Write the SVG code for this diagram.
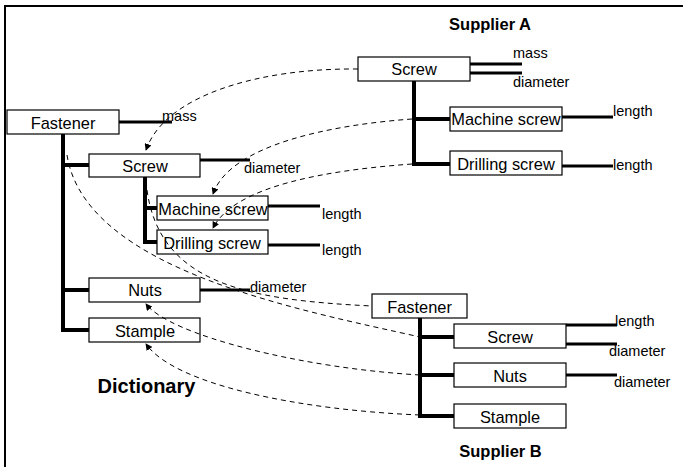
<svg xmlns="http://www.w3.org/2000/svg" width="683" height="467" viewBox="0 0 683 467">
<defs>
<marker id="arr" viewBox="0 0 8 8" refX="7" refY="4" markerWidth="7" markerHeight="7" orient="auto" markerUnits="userSpaceOnUse">
<path d="M0,0 L8,4 L0,8 z" fill="#000"/>
</marker>
<style>
.box{fill:#fff;stroke:#000;stroke-width:1.2}
.lbl{font-family:"Liberation Sans",Arial,sans-serif;font-size:16.4px;fill:#000;text-anchor:middle}
.att{font-family:"Liberation Sans",Arial,sans-serif;font-size:14.5px;fill:#000}
.ttl{font-family:"Liberation Sans",Arial,sans-serif;font-weight:bold;fill:#000;text-anchor:middle}
.tree{fill:none;stroke:#000;stroke-width:4;stroke-linejoin:miter}
.attl{fill:none;stroke:#000;stroke-width:3}
.dash{fill:none;stroke:#000;stroke-width:1;stroke-dasharray:5,4}
</style>
</defs>
<rect x="5" y="6" width="700" height="500" fill="#fff" stroke="#000" stroke-width="2"/>

<g id="structure">
<polyline class="tree" points="63,134 63,330 89,330"/>
<line class="tree" x1="63" y1="165" x2="89" y2="165"/>
<line class="tree" x1="63" y1="290" x2="89" y2="290"/>
<polyline class="tree" points="145,177 145,242 157,242"/>
<line class="tree" x1="145" y1="208" x2="157" y2="208"/>
<line class="attl" x1="119" y1="122" x2="172" y2="122"/>
<line class="attl" x1="200" y1="160" x2="250" y2="160"/>
<line class="attl" x1="268" y1="206" x2="320" y2="206"/>
<line class="attl" x1="268" y1="245" x2="320" y2="245"/>
<line class="attl" x1="200" y1="290" x2="250" y2="290"/>
<polyline class="tree" points="414,81 414,164 450,164"/>
<line class="tree" x1="414" y1="119" x2="450" y2="119"/>
<line class="attl" x1="470" y1="64" x2="522" y2="64"/>
<line class="attl" x1="470" y1="73" x2="522" y2="73"/>
<line class="attl" x1="562" y1="117" x2="613" y2="117"/>
<line class="attl" x1="562" y1="166" x2="613" y2="166"/>
<polyline class="tree" points="420,318 420,416 454,416"/>
<line class="tree" x1="420" y1="337" x2="454" y2="337"/>
<line class="tree" x1="420" y1="375" x2="454" y2="375"/>
<line class="attl" x1="566" y1="325" x2="617" y2="325"/>
<line class="attl" x1="566" y1="344" x2="617" y2="344"/>
<line class="attl" x1="566" y1="375" x2="617" y2="375"/>
</g>

<g id="dict-fastener"><rect class="box" x="7" y="110" width="112" height="24"/><text class="lbl" x="63" y="128.5">Fastener</text></g>
<g id="dict-screw"><rect class="box" x="89" y="154" width="111" height="23"/><text class="lbl" x="145" y="172">Screw</text></g>
<g id="dict-machine-screw"><rect class="box" x="157" y="196" width="111" height="24"/><text class="lbl" x="213" y="215">Machine screw</text></g>
<g id="dict-drilling-screw"><rect class="box" x="157" y="230" width="111" height="24"/><text class="lbl" x="212" y="249">Drilling screw</text></g>
<g id="dict-nuts"><rect class="box" x="89" y="278" width="111" height="24"/><text class="lbl" x="145" y="296">Nuts</text></g>
<g id="dict-stample"><rect class="box" x="89" y="318" width="111" height="24"/><text class="lbl" x="145" y="336.5">Stample</text></g>

<g id="a-screw"><rect class="box" x="358" y="57" width="112" height="24"/><text class="lbl" x="414" y="75">Screw</text></g>
<g id="a-machine-screw"><rect class="box" x="450" y="107" width="112" height="24"/><text class="lbl" x="506" y="124.5">Machine screw</text></g>
<g id="a-drilling-screw"><rect class="box" x="450" y="151" width="112" height="24"/><text class="lbl" x="506" y="170">Drilling screw</text></g>

<g id="b-fastener"><rect class="box" x="372" y="294" width="95" height="24"/><text class="lbl" x="419.5" y="312.5">Fastener</text></g>
<g id="b-screw"><rect class="box" x="454" y="324" width="112" height="24"/><text class="lbl" x="510" y="342.5">Screw</text></g>
<g id="b-nuts"><rect class="box" x="454" y="363" width="112" height="24"/><text class="lbl" x="510" y="381.5">Nuts</text></g>
<g id="b-stample"><rect class="box" x="454" y="404" width="112" height="24"/><text class="lbl" x="510" y="423">Stample</text></g>

<g id="labels">
<text class="att" x="162" y="121">mass</text>
<text class="att" x="244" y="173">diameter</text>
<text class="att" x="322" y="219">length</text>
<text class="att" x="322" y="255">length</text>
<text class="att" x="250" y="292">diameter</text>
<text class="att" x="513" y="58">mass</text>
<text class="att" x="513" y="87">diameter</text>
<text class="att" x="613" y="116">length</text>
<text class="att" x="613" y="170">length</text>
<text class="att" x="615" y="326">length</text>
<text class="att" x="609" y="356">diameter</text>
<text class="att" x="614" y="387">diameter</text>
<text class="ttl" x="146.5" y="393" font-size="20">Dictionary</text>
<text class="ttl" x="490" y="30" font-size="16.5">Supplier A</text>
<text class="ttl" x="500.5" y="457" font-size="16.5">Supplier B</text>
</g>

<g id="connectors">
<path class="dash" d="M358,69 C260,68 165,95 146,150" marker-end="url(#arr)"/>
<path class="dash" d="M412,119 C330,125 230,145 213,194" marker-end="url(#arr)"/>
<path class="dash" d="M412,164 C330,170 235,185 213,228" marker-end="url(#arr)"/>
<path class="dash" d="M67,155 C85,270 300,310 420,337"/>
<path class="dash" d="M147,190 C160,285 250,300 372,306"/>
<path class="dash" d="M420,375 C300,368 170,335 146,304" marker-end="url(#arr)"/>
<path class="dash" d="M420,415 C300,410 175,385 146,344" marker-end="url(#arr)"/>
</g>
</svg>
